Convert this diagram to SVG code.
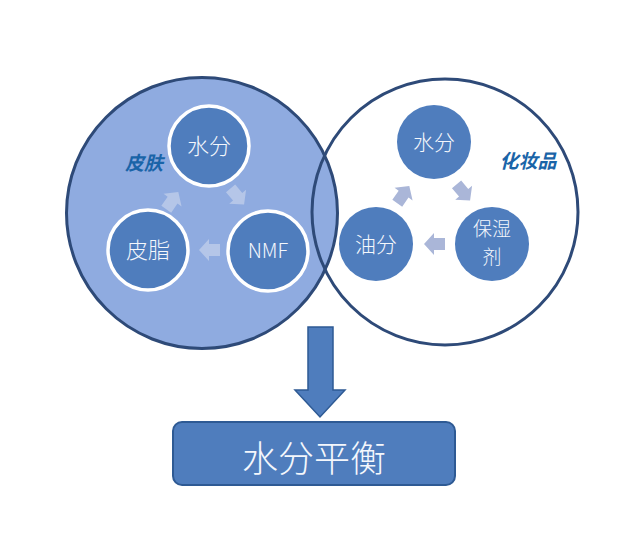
<svg xmlns="http://www.w3.org/2000/svg" width="640" height="553" viewBox="0 0 640 553">
<defs>
<style>
.big{stroke:#2e4a78;stroke-width:3}
.inL{fill:#4f7dbd;stroke:#ffffff;stroke-width:3.5}
.inR{fill:#4f7dbd}
.t{font-family:"Noto Sans CJK SC","Noto Sans",sans-serif;fill:#f4f7fc;text-anchor:middle;font-weight:300}
.lbl{font-family:"Noto Sans CJK SC",sans-serif;font-weight:bold;font-style:italic;fill:#1a64a8;font-size:19px}
.aL{fill:#b5c6e8}
.aR{fill:#aab6d8}
</style>
<path id="ba" d="M-10,-6 L1,-6 L1,-11 L11,0 L1,11 L1,6 L-10,6 Z"/>
</defs>
<rect width="640" height="553" fill="#ffffff"/>
<g id="cosmetics-circle">
<circle cx="445" cy="212" r="133" fill="#ffffff"/>
</g>
<g id="skin-circle">
<circle cx="202" cy="213" r="135.5" fill="#8fabe0" class="big"/>
</g>
<g id="cosmetics-outline">
<circle cx="445" cy="212" r="133" fill="none" class="big"/>
</g>
<g id="connectors">
<use href="#ba" class="aL" transform="translate(237,196) rotate(50)"/>
<use href="#ba" class="aL" transform="translate(210,250) rotate(180)"/>
<use href="#ba" class="aL" transform="translate(172,201) rotate(-55)"/>
<use href="#ba" class="aR" transform="translate(463,192) rotate(50)"/>
<use href="#ba" class="aR" transform="translate(435,244) rotate(180)"/>
<use href="#ba" class="aR" transform="translate(403,195) rotate(-55)"/>
<path d="M308,327 H333 V390 H345 L320,417 L295,390 H308 Z" fill="#4f7dbd" stroke="#2e5a94" stroke-width="1.5"/>
</g>
<g id="skin-label"><text x="125" y="170" class="lbl">皮肤</text></g>
<g id="cosmetics-label"><text x="528" y="168" class="lbl" text-anchor="middle">化妆品</text></g>
<g id="skin-water">
<circle cx="209" cy="146" r="40" class="inL"/>
<text x="209" y="154" class="t" font-size="22">水分</text>
</g>
<g id="skin-sebum">
<circle cx="148" cy="250" r="40" class="inL"/>
<text x="148" y="258" class="t" font-size="22">皮脂</text>
</g>
<g id="nmf">
<circle cx="268" cy="251" r="40" class="inL"/>
<text x="268" y="258" class="t" font-size="20" font-weight="400">NMF</text>
</g>
<g id="cos-water">
<circle cx="434" cy="142" r="37" class="inR"/>
<text x="434" y="150" class="t" font-size="21">水分</text>
</g>
<g id="cos-oil">
<circle cx="376" cy="244" r="37" class="inR"/>
<text x="376" y="252" class="t" font-size="21">油分</text>
</g>
<g id="humectant">
<circle cx="492" cy="244" r="37" class="inR"/>
<text x="492" y="236" class="t" font-size="19">保湿</text>
<text x="492" y="264" class="t" font-size="19">剂</text>
</g>
<g id="water-balance">
<rect x="173" y="422" width="282" height="63" rx="9" fill="#4f7dbd" stroke="#2e5a94" stroke-width="2"/>
<text x="314" y="472" class="t" font-size="36">水分平衡</text>
</g>
</svg>
